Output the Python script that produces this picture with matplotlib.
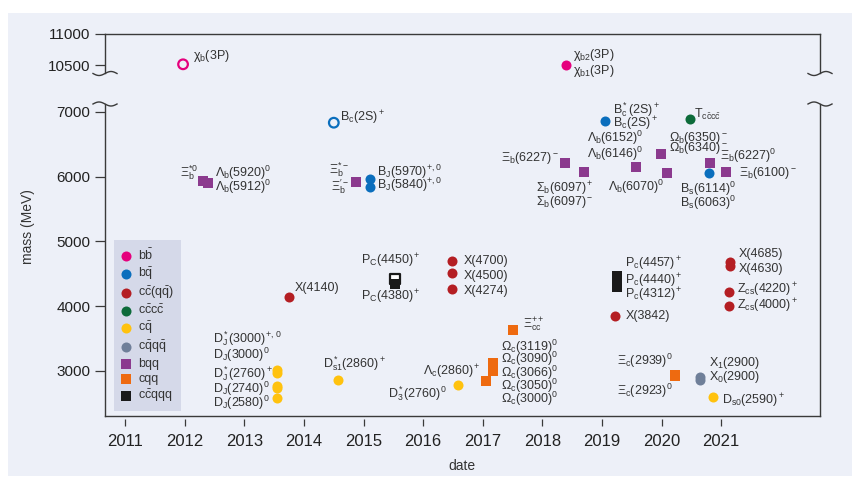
import numpy as np
import matplotlib
matplotlib.use('Agg')
import matplotlib.pyplot as plt
from matplotlib.patches import Rectangle
from matplotlib.lines import Line2D

plt.rcParams['font.family'] = ['Liberation Sans', 'DejaVu Sans']
plt.rcParams['mathtext.fontset'] = 'custom'
plt.rcParams['mathtext.rm'] = 'Liberation Sans'
plt.rcParams['mathtext.it'] = 'Liberation Sans:italic'
plt.rcParams['mathtext.bf'] = 'Liberation Sans:bold'
plt.rcParams['mathtext.sf'] = 'Liberation Sans'
plt.rcParams['mathtext.default'] = 'regular'

# ---------------- data ----------------
categories = [r'$b\bar{b}$', r'$b\bar{q}$', r'$c\bar{c}(q\bar{q})$', r'$c\bar{c}c\bar{c}$',
              r'$c\bar{q}$', r'$c\bar{q}q\bar{q}$', 'bqq', 'cqq', r'$c\bar{c}qqq$']
colors = ['#e5007d', '#0a6ebd', '#b41e23', '#0d6b3a', '#ffc20e', '#6f7f99',
          '#8b3a8e', '#ee6a10', '#1a1a1a']

bb_dates = [2018.39]
bb_masses = [10512]
bb_open_dates = [2011.97]
bb_open_masses = [10516]

bq_dates = [2015.10, 2015.10, 2019.06, 2020.80]
bq_masses = [5963, 5844, 6864, 6063]
bq_open_dates = [2014.50]
bq_open_masses = [6833]

ccqq_dates = [2013.74, 2016.48, 2016.48, 2016.48, 2019.22, 2021.15, 2021.15, 2021.14, 2021.14]
ccqq_masses = [4144, 4696, 4505, 4263, 3845, 4680, 4623, 4216, 4005]

cccc_dates = [2020.47]
cccc_masses = [6885]

cq_dates = [2013.55, 2013.55, 2013.55, 2013.55, 2013.55, 2014.57, 2016.58, 2020.86]
cq_masses = [3011, 2969, 2757, 2736, 2583, 2856, 2779, 2598]

cqqq_dates = [2020.65, 2020.65]
cqqq_masses = [2904, 2858]

bqq_dates = [2012.31, 2012.39, 2014.87, 2018.38, 2018.70, 2019.57, 2019.99, 2020.09, 2020.82, 2021.08]
bqq_masses = [5925, 5894, 5921, 6215, 6076, 6144, 6345, 6060, 6215, 6076]

cqq_dates = [2017.05, 2017.18, 2017.18, 2017.18, 2017.18, 2017.18, 2017.50, 2020.23, 2020.23]
cqq_masses = [2845, 3000, 3050, 3066, 3090, 3119, 3629, 2939, 2923]

ccqqq_open_dates = [2015.52]
ccqqq_open_masses = [4420]
ccqqq_dates = [2015.52, 2019.26, 2019.26, 2019.26]
ccqqq_masses = [4340, 4457, 4440, 4300]

years = list(range(2011, 2022))
lower_ticks = [3000, 4000, 5000, 6000, 7000]
upper_ticks = [10500, 11000]

upper_labels = [
    (r'$\chi_b$(3P)', 2012.14, 10649, 'left'),
    (r'$\chi_{b2}$(3P)', 2018.52, 10665, 'left'),
    (r'$\chi_{b1}$(3P)', 2018.52, 10414, 'left'),
]
lower_labels = [
    (r'$B_c(2S)^+$', 2014.61, 6907, 'left'),
    (r'$\Xi_b^{*0}$', 2012.22, 6061, 'right'),
    (r'$\Lambda_b(5920)^0$', 2012.51, 6061, 'left'),
    (r'$\Lambda_b(5912)^0$', 2012.51, 5845, 'left'),
    (r'$\Xi_b^{*-}$', 2014.75, 6103, 'right'),
    (r'$\Xi_b^{\prime -}$', 2014.75, 5845, 'right'),
    (r'$B_J(5970)^{+,0}$', 2015.23, 6077, 'left'),
    (r'$B_J(5840)^{+,0}$', 2015.23, 5871, 'left'),
    (r'$\Xi_b(6227)^-$', 2018.28, 6284, 'right'),
    (r'$\Sigma_b(6097)^+$', 2017.90, 5804, 'left'),
    (r'$\Sigma_b(6097)^-$', 2017.90, 5613, 'left'),
    (r'$B_c^*(2S)^+$', 2019.19, 7030, 'left'),
    (r'$B_c(2S)^+$', 2019.19, 6814, 'left'),
    (r'$\Lambda_b(6152)^0$', 2019.69, 6593, 'right'),
    (r'$\Lambda_b(6146)^0$', 2019.69, 6350, 'right'),
    (r'$\Lambda_b(6070)^0$', 2019.10, 5845, 'left'),
    (r'$T_{c\bar{c}c\bar{c}}$', 2020.54, 6953, 'left'),
    (r'$\Omega_b(6350)^-$', 2020.12, 6593, 'left'),
    (r'$\Omega_b(6340)^-$', 2020.12, 6438, 'left'),
    (r'$\Xi_b(6227)^0$', 2020.99, 6319, 'left'),
    (r'$\Xi_b(6100)^-$', 2021.30, 6061, 'left'),
    (r'$B_s(6114)^0$', 2020.31, 5804, 'left'),
    (r'$B_s(6063)^0$', 2020.31, 5597, 'left'),
    ('X(4140)', 2013.85, 4274, 'left'),
    (r'$P_C(4450)^+$', 2015.45, 4696, 'center'),
    (r'$P_C(4380)^+$', 2015.45, 4144, 'center'),
    ('X(4700)', 2016.68, 4700, 'left'),
    ('X(4500)', 2016.68, 4469, 'left'),
    ('X(4274)', 2016.68, 4237, 'left'),
    (r'$\Xi_{cc}^{++}$', 2017.68, 3707, 'left'),
    (r'$\Omega_c(3119)^0$', 2017.30, 3371, 'left'),
    (r'$\Omega_c(3090)^0$', 2017.30, 3181, 'left'),
    (r'$\Omega_c(3066)^0$', 2017.30, 2969, 'left'),
    (r'$\Omega_c(3050)^0$', 2017.30, 2768, 'left'),
    (r'$\Omega_c(3000)^0$', 2017.30, 2563, 'left'),
    (r'$\Lambda_c(2860)^+$', 2016.96, 2985, 'right'),
    (r'$D_3^*(2760)^0$', 2016.40, 2651, 'right'),
    (r'$D_J^*(3000)^{+,\,0}$', 2012.47, 3490, 'left'),
    (r'$D_J(3000)^0$', 2012.47, 3243, 'left'),
    (r'$D_J^*(2760)^+$', 2012.47, 2949, 'left'),
    (r'$D_J(2740)^0$', 2012.47, 2717, 'left'),
    (r'$D_J(2580)^0$', 2012.47, 2496, 'left'),
    (r'$D_{s1}^*(2860)^+$', 2014.32, 3114, 'left'),
    (r'$P_c(4457)^+$', 2019.39, 4650, 'left'),
    (r'$P_c(4440)^+$', 2019.39, 4391, 'left'),
    (r'$P_c(4312)^+$', 2019.39, 4170, 'left'),
    ('X(3842)', 2019.40, 3846, 'left'),
    (r'$\Xi_c(2939)^0$', 2019.25, 3150, 'left'),
    (r'$\Xi_c(2923)^0$', 2019.25, 2691, 'left'),
    (r'$X_1(2900)$', 2020.79, 3114, 'left'),
    (r'$X_0(2900)$', 2020.79, 2907, 'left'),
    (r'$D_{s0}(2590)^+$', 2021.01, 2536, 'left'),
    ('X(4685)', 2021.29, 4804, 'left'),
    ('X(4630)', 2021.29, 4572, 'left'),
    (r'$Z_{cs}(4220)^+$', 2021.27, 4248, 'left'),
    (r'$Z_{cs}(4000)^+$', 2021.27, 4005, 'left'),
]

# ---------------- figure ----------------
W, H = 853, 483
fig = plt.figure(figsize=(W / 100, H / 100), dpi=100, facecolor='white')
BG = '#edf0f8'
fig.patches.append(Rectangle((8 / W, 1 - 476 / H), (852 - 8) / W, (476 - 13) / H,
                             transform=fig.transFigure, facecolor=BG, edgecolor='none', zorder=-10))

L, R = 105, 820
UT, UB = 34, 73
LT, LB = 104, 416
axu = fig.add_axes([L / W, 1 - UB / H, (R - L) / W, (UB - UT) / H])
axl = fig.add_axes([L / W, 1 - LB / H, (R - L) / W, (LB - LT) / H])
XMIN, XMAX = 2010.66, 2022.66
SPC = '#3a3a3a'
TXT = '#333333'

for ax in (axu, axl):
    ax.set_facecolor('none')
    ax.set_xlim(XMIN, XMAX)
    for s in ax.spines.values():
        s.set_color(SPC)
        s.set_linewidth(1.0)
    ax.tick_params(axis='y', direction='out', length=7, width=0.9, color=SPC,
                   labelsize=11, labelcolor='#222222', pad=3.5)

axu.set_ylim(10377, 11000)
axu.set_yticks(upper_ticks)
axu.spines['bottom'].set_visible(False)
axu.set_xticks([])

axl.set_ylim(2300, 7122)
axl.set_yticks(lower_ticks)
axl.spines['top'].set_visible(False)
axl.set_xticks(years)
axl.spines['bottom'].set_position(('outward', 2.5))
axl.spines['bottom'].set_visible(False)
axl.plot([0, 1], [0, 0], transform=axl.transAxes, color=SPC, lw=1.0, clip_on=False, zorder=5)
axl.tick_params(axis='x', direction='out', length=5.3, width=0.9, color=SPC, pad=5,
                labelsize=12, labelcolor='#222222')

# break marks
def brk(xc, yc, sign):
    dx = np.linspace(-12, 12, 60)
    dy = yc + sign * 2.0 * np.sin(np.pi * dx / 12)
    fig.add_artist(Line2D((xc + dx) / W, 1 - dy / H, transform=fig.transFigure,
                          color=SPC, lw=1.0))

for xc in (L, R):
    brk(xc, UB + 0.5, -1)
    brk(xc, LT, +1)

CS = 52   # circle size
SS = 60   # square size

def sc(ax, x, y, color, marker='o', size=CS, face=None, lw=0, z=3, label=None):
    fc = color if face is None else face
    return ax.scatter(x, y, s=size, marker=marker, facecolors=fc, edgecolors=color,
                      linewidths=lw, zorder=z, label=label)

handles = []
handles.append(sc(axu, bb_dates, bb_masses, colors[0], label=categories[0]))
sc(axu, bb_open_dates, bb_open_masses, colors[0], size=48, face='none', lw=1.6)
handles.append(sc(axl, bq_dates, bq_masses, colors[1], label=categories[1]))
sc(axl, bq_open_dates, bq_open_masses, colors[1], size=48, face='none', lw=1.6)
handles.append(sc(axl, ccqq_dates, ccqq_masses, colors[2], label=categories[2]))
handles.append(sc(axl, cccc_dates, cccc_masses, colors[3], label=categories[3]))
handles.append(sc(axl, cq_dates, cq_masses, colors[4], label=categories[4]))
handles.append(sc(axl, cqqq_dates, cqqq_masses, colors[5], label=categories[5]))
handles.append(sc(axl, bqq_dates, bqq_masses, colors[6], marker='s', size=SS, z=4, label=categories[6]))
handles.append(sc(axl, cqq_dates, cqq_masses, colors[7], marker='s', size=SS, z=4, label=categories[7]))
sc(axl, ccqqq_open_dates, ccqqq_open_masses, colors[8], marker='s', size=44, face='white', lw=1.6, z=4)
handles.append(sc(axl, ccqqq_dates, ccqqq_masses, colors[8], marker='s', size=SS, z=5, label=categories[8]))

for t, x, y, ha in upper_labels:
    axu.text(x, y, t, ha=ha, va='center', fontsize=9, color=TXT)
for t, x, y, ha in lower_labels:
    axl.text(x, y, t, ha=ha, va='center', fontsize=9, color=TXT)

leg = axl.legend(handles=handles, loc='lower left', bbox_to_anchor=(0.0126, 0.016),
                 frameon=True, fancybox=False, facecolor='#d5d9e9', edgecolor='none',
                 framealpha=1, fontsize=9, handlelength=0.8, handletextpad=0.6,
                 borderpad=0.55, labelspacing=0.22, borderaxespad=0, scatterpoints=1)
for t in leg.get_texts():
    t.set_color(TXT)

fig.text(462 / W, 1 - 466 / H, 'date', ha='center', va='center', fontsize=10, color=TXT)
fig.text(28 / W, 1 - 227 / H, 'mass (MeV)', ha='center', va='center', rotation=90,
         fontsize=10, color=TXT)

fig.savefig('out.png', dpi=100, facecolor='white')
